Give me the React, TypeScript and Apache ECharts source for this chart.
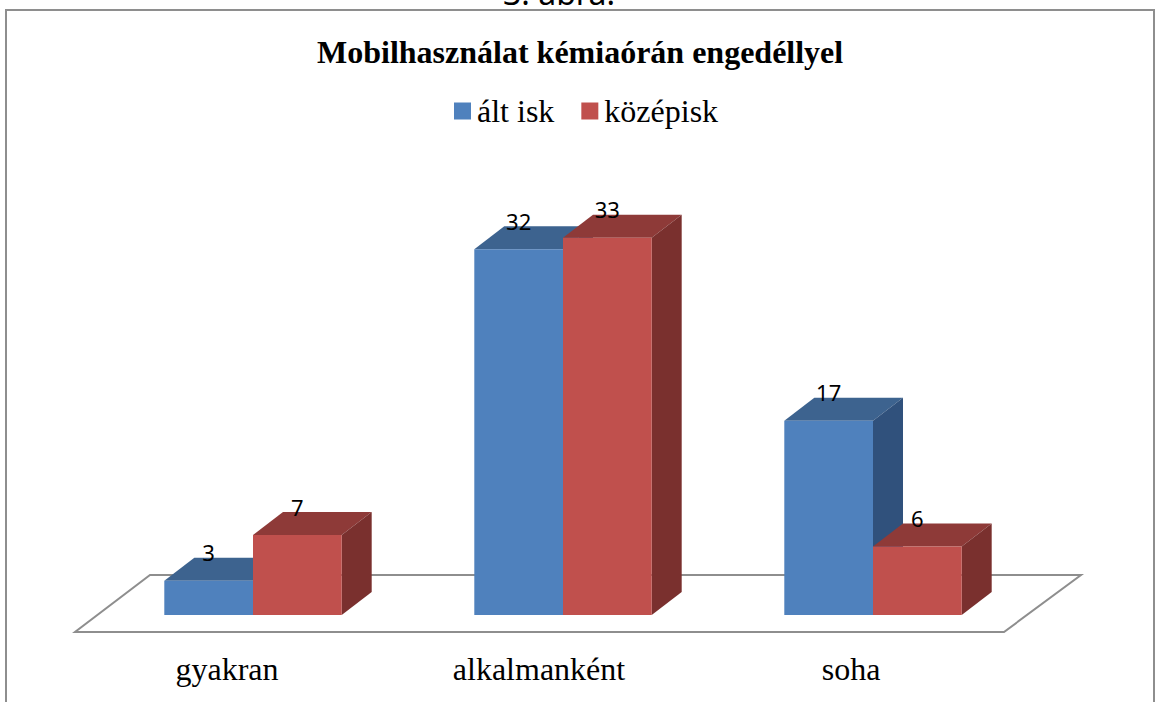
import React, { useEffect, useRef } from "react";
import * as echarts from "echarts";

const categories = ["gyakran", "alkalmanként", "soha"];
const seriesNames = ["ált isk", "középisk"];
const altIsk = [3, 32, 17];
const kozepisk = [7, 33, 6];
const heading = "3. ábra.";
const chartTitle = "Mobilhasználat kémiaórán engedéllyel";

const SERIF = "'Liberation Serif', serif";
const SANS = "'Noto Sans', sans-serif";
const FRONT = ["#4f81bd", "#c0504d"];
const TOP = ["#3d638f", "#8e3a38"];
const SIDE = ["#30517c", "#7a302e"];
const BAR_W = 88.7;
const DX = 30;
const DY = 23;
const GRAY = "#8e8e8e";

function renderBar(params: any, api: any) {
  const s = params.seriesIndex;
  const p = api.coord([api.value(0), api.value(1)]);
  const b = api.coord([api.value(0), 0]);
  const x0 = s === 0 ? p[0] - BAR_W : p[0];
  const x1 = x0 + BAR_W;
  const yt = p[1];
  const yb = b[1];
  return {
    type: "group",
    children: [
      { type: "polygon", shape: { points: [[x0, yt], [x0 + DX, yt - DY], [x1 + DX, yt - DY], [x1, yt]] }, style: { fill: TOP[s] } },
      { type: "polygon", shape: { points: [[x1, yt], [x1 + DX, yt - DY], [x1 + DX, yb - DY], [x1, yb]] }, style: { fill: SIDE[s] } },
      { type: "rect", shape: { x: x0, y: yt, width: BAR_W, height: yb - yt }, style: { fill: FRONT[s] } },
      {
        type: "text",
        style: {
          text: String(api.value(1)),
          x: (x0 + x1) / 2,
          y: yt - 28.5,
          align: "center",
          verticalAlign: "middle",
          fontFamily: SANS,
          fontSize: 22,
          fill: "#000",
        },
      },
    ],
  };
}

export default function App() {
  const ref = useRef<HTMLDivElement>(null);
  useEffect(() => {
    document.body.style.margin = "0";
    const chart = echarts.init(ref.current!, undefined, { renderer: "svg" });
    const mk = (name: string, values: number[], i: number) => ({
      type: "custom",
      name,
      xAxisIndex: 0,
      yAxisIndex: 0,
      renderItem: renderBar,
      itemStyle: { color: FRONT[i] },
      encode: { x: 0, y: 1 },
      data: values.map((v, k) => [k, v]),
      z: 3 + i,
    });
    chart.setOption({
      animation: false,
      backgroundColor: "#fff",
      title: {
        text: chartTitle,
        left: 317,
        top: 36,
        padding: 0,
        textStyle: { fontFamily: SERIF, fontSize: 32, fontWeight: "bold", color: "#000" },
      },
      legend: {
        data: seriesNames.map((name) => ({ name, icon: "rect" })),
        left: 454,
        top: 95,
        padding: 0,
        itemWidth: 17,
        itemHeight: 17,
        itemGap: 27,
        textStyle: { fontFamily: SERIF, fontSize: 32, color: "#000", padding: [0, 0, 0, 1] },
      },
      grid: [
        { left: 98, width: 930, top: 215, height: 400 },
        { left: 71, width: 936, top: 214, height: 426 },
      ],
      xAxis: [
        { type: "category", gridIndex: 0, data: categories, axisLine: { show: false }, axisTick: { show: false }, axisLabel: { show: false } },
        {
          type: "category",
          gridIndex: 1,
          data: categories,
          axisLine: { show: false },
          axisTick: { show: false },
          axisLabel: { fontFamily: SERIF, fontSize: 32, color: "#000", margin: 13 },
        },
      ],
      yAxis: [
        { type: "value", gridIndex: 0, min: 0, max: 35, show: false },
        { type: "value", gridIndex: 1, min: 0, max: 35, show: false },
      ],
      graphic: [
        { type: "text", x: 559, y: -24, style: { text: heading, x: 0, y: 0, align: "center", fontFamily: SANS, fontSize: 32, fill: "#000" } },
        { type: "polyline", z: 1, shape: { points: [[6, 702], [6, 10], [1154, 10], [1154, 702]] }, style: { fill: "none", stroke: GRAY, lineWidth: 2 } },
        { type: "polygon", z: 1, shape: { points: [[150, 575], [1081, 575], [1004, 632], [75, 632]] }, style: { fill: "#fff", stroke: GRAY, lineWidth: 2 } },
      ],
      series: [mk(seriesNames[0], altIsk, 0), mk(seriesNames[1], kozepisk, 1)],
    });
    return () => chart.dispose();
  }, []);
  return <div ref={ref} style={{ width: 1156, height: 702 }} />;
}
